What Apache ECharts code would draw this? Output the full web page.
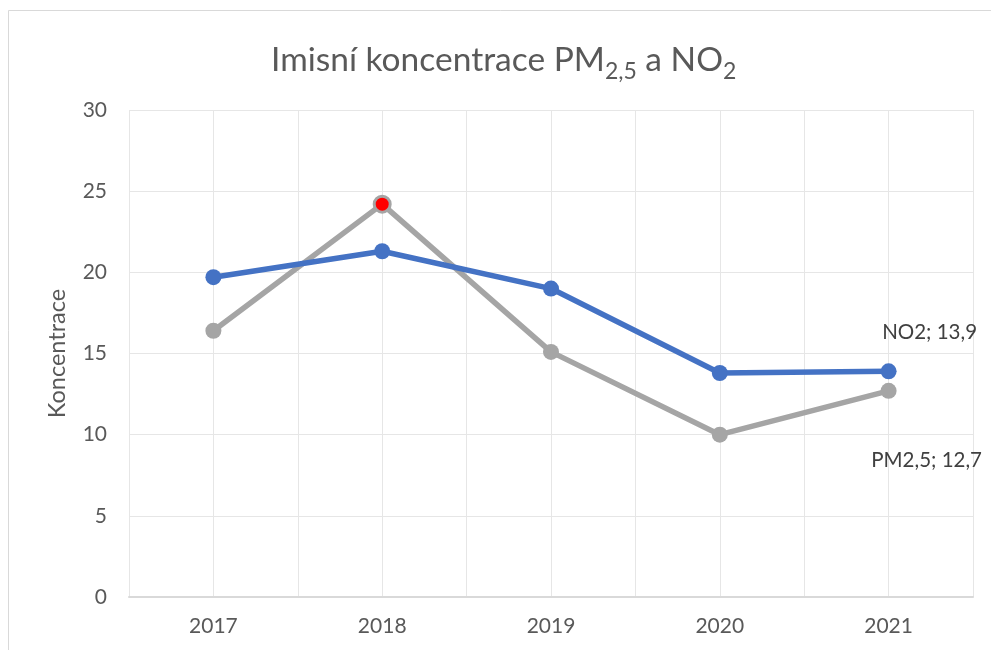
<!DOCTYPE html>
<html>
<head>
<meta charset="utf-8">
<script src="https://cdn.jsdelivr.net/npm/echarts@6/dist/echarts.min.js"></script>
<style>
  html, body { margin: 0; padding: 0; background: #fff; }
  #chart { width: 991px; height: 650px; }
</style>
</head>
<body>
<div id="chart"></div>
<script>
// data
var years = ['2017', '2018', '2019', '2020', '2021'];
var no2 = [19.7, 21.3, 19.0, 13.8, 13.9];
var pm25 = [16.4, 24.2, 15.1, 10.0, 12.7];
var halfSteps = ['', '', '', '', '', '', '', '', '', ''];   // for the gridlines every half category

var font = 'Lato, "Open Sans", sans-serif';
var textColor = '#595959';

function withLastLabel(values, name, offset, highlightIdx) {
    return values.map(function (v, i) {
        var item = {value: v};
        if (i === values.length - 1) {
            item.label = {
                show: true,
                formatter: name + '; ' + String(v.toFixed(1)).replace('.', ','),
                position: 'inside',
                offset: offset,
                fontSize: 20.5,
                fontFamily: font,
                color: '#404040'
            };
        }
        if (i === highlightIdx) {
            item.itemStyle = {color: '#ff0000', borderColor: '#a5a5a5', borderWidth: 3};
        }
        return item;
    });
}

var myChart = echarts.init(document.getElementById('chart'));
var option = {
    animation: false,
    backgroundColor: '#fff',
    graphic: [{
        type: 'rect',
        shape: {x: 8.5, y: 10.5, width: 1000, height: 700},
        style: {fill: 'none', stroke: '#d9d9d9', lineWidth: 1},
        silent: true
    }],
    title: {
        text: 'Imisní koncentrace PM{sub|2,5} a NO{sub|2}',
        left: 266,
        top: 33,
        textStyle: {
            fontFamily: font,
            fontSize: 33.5,
            fontWeight: 'normal',
            color: textColor,
            rich: {
                sub: {fontFamily: font, fontSize: 23, color: textColor, padding: [22, 0, 0, 0]}
            }
        }
    },
    grid: {left: 129, right: 18, top: 110, bottom: 53},
    xAxis: [{
        type: 'category',
        data: years,
        boundaryGap: true,
        axisLine: {lineStyle: {color: '#d9d9d9', width: 2}},
        axisTick: {show: false},
        splitLine: {show: false},
        axisLabel: {fontFamily: font, fontSize: 21, color: textColor, margin: 19}
    }, {
        type: 'category',
        data: halfSteps,
        position: 'bottom',
        boundaryGap: true,
        axisLine: {show: false},
        axisTick: {show: false},
        axisLabel: {show: false},
        splitLine: {show: true, lineStyle: {color: '#e6e6e6', width: 1}}
    }],
    yAxis: {
        type: 'value',
        min: 0,
        max: 30,
        interval: 5,
        name: 'Koncentrace',
        nameLocation: 'middle',
        nameGap: 60,
        nameTextStyle: {fontFamily: font, fontSize: 23.5, color: textColor},
        axisLine: {show: false},
        axisTick: {show: false},
        axisLabel: {fontFamily: font, fontSize: 21, color: textColor, margin: 22},
        splitLine: {lineStyle: {color: '#e6e6e6', width: 1}}
    },
    series: [{
        name: 'PM2,5',
        type: 'line',
        data: withLastLabel(pm25, 'PM2,5', [38, 70], 1),
        symbol: 'circle',
        symbolSize: 16,
        lineStyle: {color: '#a5a5a5', width: 5.5},
        itemStyle: {color: '#a5a5a5'},
        z: 2
    }, {
        name: 'NO2',
        type: 'line',
        data: withLastLabel(no2, 'NO2', [41, -39], -1),
        symbol: 'circle',
        symbolSize: 16,
        lineStyle: {color: '#4472c4', width: 5.5},
        itemStyle: {color: '#4472c4'},
        z: 3
    }]
};
myChart.setOption(option);
</script>
</body>
</html>
